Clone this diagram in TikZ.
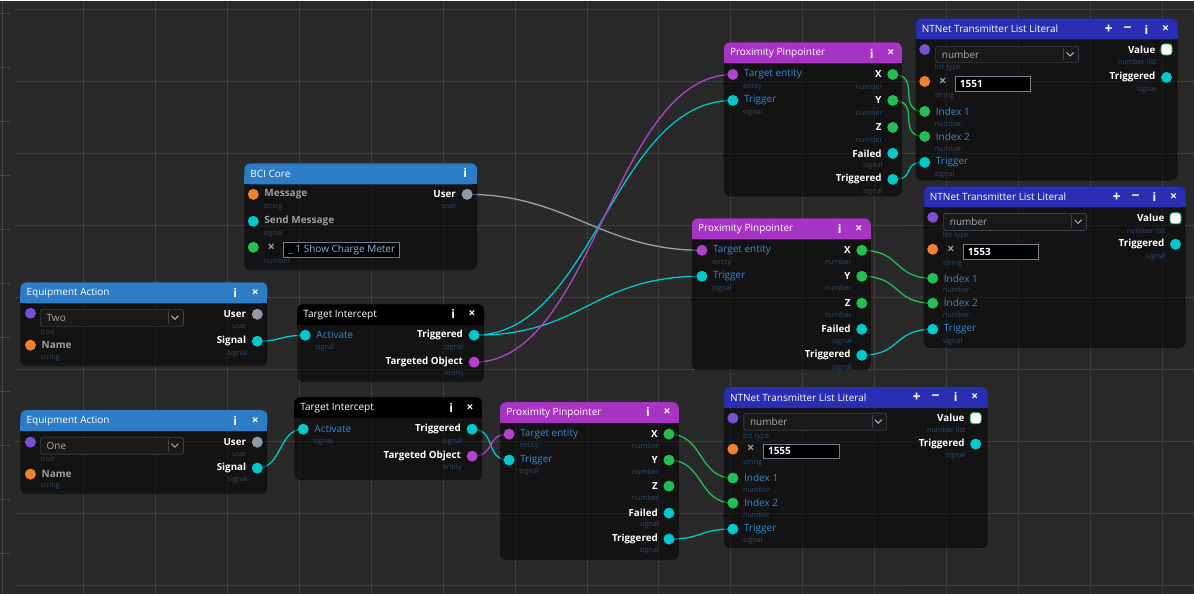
\documentclass[tikz,border=0pt]{standalone}
\usepackage{fontspec}
\setmainfont{Open Sans}
\definecolor{canvas}{RGB}{41,41,41}
\definecolor{gridline}{RGB}{70,70,70}
\definecolor{hdrblue}{RGB}{45,124,198}
\definecolor{hdrpurple}{RGB}{168,52,196}
\definecolor{hdrnavy}{RGB}{41,46,178}
\definecolor{pinorange}{RGB}{240,128,44}
\definecolor{pincyan}{RGB}{0,200,204}
\definecolor{pingreen}{RGB}{36,190,82}
\definecolor{pinentity}{RGB}{178,66,204}
\definecolor{pinicon}{RGB}{124,78,212}
\definecolor{pinuser}{RGB}{146,154,166}
\definecolor{wireuser}{RGB}{150,162,178}
\definecolor{lblblue}{RGB}{58,136,214}
\definecolor{lblgray}{RGB}{158,158,158}
\definecolor{subblue}{RGB}{44,74,108}
\definecolor{boxedge}{RGB}{76,94,116}
\definecolor{boxblue}{RGB}{140,184,226}
\pgfdeclarelayer{grid}
\pgfdeclarelayer{wires}
\pgfsetlayers{grid,wires,main}
\usetikzlibrary{positioning}

\tikzset{
  port/.style={circle, inner sep=0pt, minimum size=11pt, fill=#1},
  valpin/.style={rectangle, rounded corners=3pt, inner sep=0pt, minimum size=11pt,
                 fill=white, draw=pingreen, line width=0.8pt},
  inlbl/.style={anchor=west, inner sep=0pt, text=lblblue, font=\fontsize{10}{12}\selectfont},
  graylbl/.style={anchor=west, inner sep=0pt, text=lblgray, font=\fontsize{10}{12}\selectfont\bfseries},
  outlbl/.style={anchor=east, inner sep=0pt, text=white, font=\fontsize{9.8}{12}\selectfont\bfseries},
  sublbl/.style={inner sep=0pt, text=subblue, font=\fontsize{7.2}{8}\selectfont},
  hdrtext/.style={anchor=west, inner sep=0pt, text=white, font=\fontsize{10}{12}\selectfont},
  hdricon/.style={inner sep=0pt, text=white, font=\fontsize{12}{12}\selectfont\bfseries},
  bigicon/.style={hdricon, font=\fontsize{14}{14}\selectfont\bfseries},
  xmark/.style={inner sep=0pt, text=lblgray, font=\fontsize{13}{13}\selectfont\bfseries},
  droptext/.style={anchor=west, inner sep=0pt, text=lblgray!85, font=\fontsize{10}{12}\selectfont},
  wire/.style={draw=#1, line width=1.3pt},
}

\newcommand{\npanel}[7]{% name, x1, y1, x2, y2, header colour, title
  \fill[black, fill opacity=0.52, rounded corners=6pt] (#2,#3) rectangle (#4,#5);
  \fill[#6, rounded corners=6pt] (#2,#3) rectangle (#4,#3+21);
  \fill[#6] (#2,#3+12) rectangle (#4,#3+21);
  \node[hdrtext] (#1) at (#2+6,#3+10.5) {#7};
}
\newcommand{\inpin}[6]{% name, x, y, port style, label style, label
  \node[#4] (#1) at (#2,#3) {};
  \node[#5] (#1-l) at (#2+11,#3) {#6};
}
\newcommand{\intype}[5][12]{% name, x, y, type
  \node[sublbl, anchor=west] (#2-t) at (#3+10,#4+#1) {#5};
}
\newcommand{\outpin}[6]{% name, x, y, port style, label, type
  \node[#4] (#1) at (#2,#3) {};
  \node[outlbl] (#1-l) at (#2-11,#3) {#5};
  \node[sublbl, anchor=east] (#1-t) at (#2-10,#3+12) {#6};
}
\newcommand{\dropbox}[6]{% name, x1, y1, x2, y2, text
  \draw[boxedge, fill=black!40!canvas, rounded corners=2pt] (#2,#3) rectangle (#4,#5);
  \draw[boxedge!50!canvas] ({#4-15},{#3+2}) -- ({#4-15},{#5-2});
  \draw[lblgray!80, line width=1pt] ({#4-12},{(#3+#5)/2-2}) -- ({#4-8.5},{(#3+#5)/2+1.5}) -- ({#4-5},{(#3+#5)/2-2});
  \node[droptext] (#1) at ({#2+6},{(#3+#5)/2}) {#6};
}
\newcommand{\valbox}[7]{% name, x1, y1, x2, y2, text colour, text
  \draw[boxedge!80!white, fill=black] (#2,#3) rectangle (#4,#5);
  \node[anchor=west, inner sep=0pt, text=#6, font=\fontsize{10}{12}\selectfont] (#1) at ({#2+5},{(#3+#5)/2}) {#7};
}

\begin{document}
\begin{tikzpicture}[x=1pt, y=-1pt]
  \begin{pgfonlayer}{grid}
    \fill[canvas] (0,0) rectangle (1194,594);
    \foreach \gx in {83,155,...,1163}
      \draw[gridline, line width=1pt, dash pattern=on 3pt off 1pt] (\gx,0) -- (\gx,594);
    \foreach \gy in {9.5,81.5,...,586}
      \draw[gridline, line width=1pt, dash pattern=on 3pt off 1pt] (16,\gy) -- (1194,\gy);
    \draw[gridline, line width=1pt] (2.5,0) -- (2.5,594);
    \foreach \ty in {13,67,...,560}
      \draw[gridline, line width=1pt] (0,\ty) -- (10,\ty);
  \end{pgfonlayer}
  \useasboundingbox (0,0) rectangle (1194,594);

  % BCI core
  \npanel{bci}{244}{163}{477}{270}{hdrblue}{BCI Core}
  \node[hdricon] (bci-info) at (465,173) {i};
  \inpin{bci-msg}{253}{194}{port=pinorange}{graylbl}{Message}
  \intype{bci-msg}{253}{194}{string}
  \inpin{bci-send}{253}{221}{port=pincyan}{graylbl}{Send Message}
  \intype{bci-send}{253}{221}{signal}
  \inpin{bci-num}{253}{247}{port=pingreen}{graylbl}{}
  \intype[14]{bci-num}{253}{247}{number}
  \node[xmark] (bci-x) at (271,247) {×};
  \valbox{bci-val}{283}{242}{399}{257}{boxblue}{\_ 1 Show Charge Meter}
  \outpin{bci-user}{467}{194}{port=pinuser}{User}{user}

  % equipment actions
  \npanel{ea1}{20}{282}{267}{366}{hdrblue}{Equipment Action}
  \node[hdricon] (ea1-info) at (235,293) {i};
  \node[hdricon] (ea1-close) at (255,293) {×};
  \inpin{ea1-icon}{30}{313}{port=pinicon}{graylbl}{}
  \intype[19]{ea1-icon}{30}{313}{icon}
  \dropbox{ea1-drop}{40}{309}{183}{326}{Two}
  \inpin{ea1-name}{30}{345}{port=pinorange}{graylbl}{Name}
  \intype[13]{ea1-name}{30}{345}{string}
  \outpin{ea1-user}{257}{314}{port=pinuser}{User}{user}
  \outpin{ea1-sig}{257}{341}{port=pincyan}{Signal}{signal}

  \npanel{ea2}{20}{410}{267}{494}{hdrblue}{Equipment Action}
  \node[hdricon] (ea2-info) at (235,421) {i};
  \node[hdricon] (ea2-close) at (255,421) {×};
  \inpin{ea2-icon}{30}{442}{port=pinicon}{graylbl}{}
  \intype[17]{ea2-icon}{30}{442}{icon}
  \dropbox{ea2-drop}{40}{437}{183}{454}{One}
  \inpin{ea2-name}{30}{474}{port=pinorange}{graylbl}{Name}
  \intype{ea2-name}{30}{474}{string}
  \outpin{ea2-user}{257}{442}{port=pinuser}{User}{user}
  \outpin{ea2-sig}{257}{468}{port=pincyan}{Signal}{signal}

  % target intercepts
  \npanel{ti1}{297}{304}{484}{382}{black}{Target Intercept}
  \node[hdricon] (ti1-info) at (453,314) {i};
  \node[hdricon] (ti1-close) at (472,314) {×};
  \inpin{ti1-act}{305}{335}{port=pincyan}{inlbl}{Activate}
  \intype{ti1-act}{305}{335}{signal}
  \outpin{ti1-trig}{474}{335}{port=pincyan}{Triggered}{signal}
  \outpin{ti1-obj}{474}{362}{port=pinentity}{Targeted Object}{entity}

  \npanel{ti2}{294}{397}{482}{480}{black}{Target Intercept}
  \node[hdricon] (ti2-info) at (451,408) {i};
  \node[hdricon] (ti2-close) at (470,408) {×};
  \inpin{ti2-act}{303}{429}{port=pincyan}{inlbl}{Activate}
  \intype{ti2-act}{303}{429}{signal}
  \outpin{ti2-trig}{472}{429}{port=pincyan}{Triggered}{signal}
  \outpin{ti2-obj}{472}{456}{port=pinentity}{Targeted Object}{entity}

  % proximity pinpointers
  \npanel{pa}{724}{42}{902}{196}{hdrpurple}{Proximity Pinpointer}
  \node[hdricon] (pa-info) at (872,53) {i};
  \node[hdricon] (pa-close) at (891,53) {×};
  \inpin{pa-te}{733}{74}{port=pinentity}{inlbl}{Target entity}
  \intype{pa-te}{733}{74}{entity}
  \inpin{pa-trig}{733}{100}{port=pincyan}{inlbl}{Trigger}
  \intype{pa-trig}{733}{100}{signal}
  \outpin{pa-x}{893}{74}{port=pingreen}{X}{number}
  \outpin{pa-y}{893}{100}{port=pingreen}{Y}{number}
  \outpin{pa-z}{893}{127}{port=pingreen}{Z}{number}
  \outpin{pa-fail}{893}{153}{port=pincyan}{Failed}{signal}
  \outpin{pa-trg}{893}{179}{port=pincyan}{Triggered}{signal}

  \npanel{pb}{692}{218}{871}{370}{hdrpurple}{Proximity Pinpointer}
  \node[hdricon] (pb-info) at (840,229) {i};
  \node[hdricon] (pb-close) at (859,229) {×};
  \inpin{pb-te}{702}{250}{port=pinentity}{inlbl}{Target entity}
  \intype{pb-te}{702}{250}{entity}
  \inpin{pb-trig}{702}{276}{port=pincyan}{inlbl}{Trigger}
  \intype{pb-trig}{702}{276}{signal}
  \outpin{pb-x}{862}{250}{port=pingreen}{X}{number}
  \outpin{pb-y}{862}{276}{port=pingreen}{Y}{number}
  \outpin{pb-z}{862}{303}{port=pingreen}{Z}{number}
  \outpin{pb-fail}{862}{329}{port=pincyan}{Failed}{signal}
  \outpin{pb-trg}{862}{355}{port=pincyan}{Triggered}{signal}

  \npanel{pc}{500}{402}{679}{560}{hdrpurple}{Proximity Pinpointer}
  \node[hdricon] (pc-info) at (648,412) {i};
  \node[hdricon] (pc-close) at (667,412) {×};
  \inpin{pc-te}{509}{434}{port=pinentity}{inlbl}{Target entity}
  \intype{pc-te}{509}{434}{entity}
  \inpin{pc-trig}{509}{460}{port=pincyan}{inlbl}{Trigger}
  \intype{pc-trig}{509}{460}{signal}
  \outpin{pc-x}{669}{434}{port=pingreen}{X}{number}
  \outpin{pc-y}{669}{460}{port=pingreen}{Y}{number}
  \outpin{pc-z}{669}{486}{port=pingreen}{Z}{number}
  \outpin{pc-fail}{669}{513}{port=pincyan}{Failed}{signal}
  \outpin{pc-trg}{669}{539}{port=pincyan}{Triggered}{signal}

  % list literals
  \npanel{na}{916}{18}{1178}{180}{hdrnavy}{NTNet Transmitter List Literal}
  \node[bigicon] (na-add) at (1109,29) {+};
  \node[bigicon] (na-del) at (1128,29) {−};
  \node[hdricon] (na-info) at (1147,29) {i};
  \node[hdricon] (na-close) at (1166,29) {×};
  \inpin{na-type}{925}{49}{port=pinicon}{graylbl}{}
  \intype[18]{na-type}{925}{49}{list type}
  \dropbox{na-drop}{936}{46}{1079}{62}{number}
  \inpin{na-str}{925}{81}{port=pinorange}{graylbl}{}
  \intype[14]{na-str}{925}{81}{string}
  \node[xmark] (na-x) at (943,81) {×};
  \valbox{na-val}{955}{76}{1031}{91}{white}{\textbf{1551}}
  \inpin{na-i1}{925}{111}{port=pingreen}{inlbl}{Index 1}
  \intype{na-i1}{925}{111}{number}
  \inpin{na-i2}{925}{136}{port=pingreen}{inlbl}{Index 2}
  \intype{na-i2}{925}{136}{number}
  \inpin{na-trig}{925}{162}{port=pincyan}{inlbl}{Trigger}
  \intype{na-trig}{925}{162}{signal}
  \outpin{na-value}{1167}{49}{valpin}{Value}{number list}
  \outpin{na-trg}{1167}{77}{port=pincyan}{Triggered}{signal}

  \npanel{nb}{924}{186}{1186}{348}{hdrnavy}{NTNet Transmitter List Literal}
  \node[bigicon] (nb-add) at (1117,197) {+};
  \node[bigicon] (nb-del) at (1136,197) {−};
  \node[hdricon] (nb-info) at (1155,197) {i};
  \node[hdricon] (nb-close) at (1174,197) {×};
  \inpin{nb-type}{933}{217}{port=pinicon}{graylbl}{}
  \intype[18]{nb-type}{933}{217}{list type}
  \dropbox{nb-drop}{944}{213}{1087}{230}{number}
  \inpin{nb-str}{933}{249}{port=pinorange}{graylbl}{}
  \intype[14]{nb-str}{933}{249}{string}
  \node[xmark] (nb-x) at (951,249) {×};
  \valbox{nb-val}{963}{244}{1039}{259}{white}{\textbf{1553}}
  \inpin{nb-i1}{933}{278}{port=pingreen}{inlbl}{Index 1}
  \intype{nb-i1}{933}{278}{number}
  \inpin{nb-i2}{933}{303}{port=pingreen}{inlbl}{Index 2}
  \intype{nb-i2}{933}{303}{number}
  \inpin{nb-trig}{933}{329}{port=pincyan}{inlbl}{Trigger}
  \intype{nb-trig}{933}{329}{signal}
  \outpin{nb-value}{1176}{218}{valpin}{Value}{number list}
  \outpin{nb-trg}{1176}{244}{port=pincyan}{Triggered}{signal}

  \npanel{nc}{724}{387}{988}{548}{hdrnavy}{NTNet Transmitter List Literal}
  \node[bigicon] (nc-add) at (917,397) {+};
  \node[bigicon] (nc-del) at (936,397) {−};
  \node[hdricon] (nc-info) at (956,397) {i};
  \node[hdricon] (nc-close) at (975,397) {×};
  \inpin{nc-type}{733}{418}{port=pinicon}{graylbl}{}
  \intype[18]{nc-type}{733}{418}{list type}
  \dropbox{nc-drop}{744}{413}{887}{430}{number}
  \inpin{nc-str}{733}{449}{port=pinorange}{graylbl}{}
  \intype[14]{nc-str}{733}{449}{string}
  \node[xmark] (nc-x) at (751,449) {×};
  \valbox{nc-val}{763}{444}{839}{458}{white}{\textbf{1555}}
  \inpin{nc-i1}{733}{478}{port=pingreen}{inlbl}{Index 1}
  \intype{nc-i1}{733}{478}{number}
  \inpin{nc-i2}{733}{503}{port=pingreen}{inlbl}{Index 2}
  \intype{nc-i2}{733}{503}{number}
  \inpin{nc-trig}{733}{529}{port=pincyan}{inlbl}{Trigger}
  \intype{nc-trig}{733}{529}{signal}
  \outpin{nc-value}{976}{418}{valpin}{Value}{number list}
  \outpin{nc-trg}{976}{444}{port=pincyan}{Triggered}{signal}

  % connections
  \begin{pgfonlayer}{wires}
    \foreach \from/\to/\col/\k in {
        bci-user/pb-te/wireuser/100, ea1-sig/ti1-act/pincyan/25,
        ti1-trig/pa-trig/pincyan/120, ti1-trig/pb-trig/pincyan/110,
        ti1-obj/pa-te/pinentity/120, ea2-sig/ti2-act/pincyan/25,
        ti2-trig/pc-trig/pincyan/25, ti2-obj/pc-te/pinentity/25,
        pa-x/na-i1/pingreen/30, pa-y/na-i2/pingreen/30, pa-trg/na-trig/pincyan/25,
        pb-x/nb-i1/pingreen/40, pb-y/nb-i2/pingreen/40, pb-trg/nb-trig/pincyan/40,
        pc-x/nc-i1/pingreen/35, pc-y/nc-i2/pingreen/35, pc-trg/nc-trig/pincyan/35}
      \draw[wire=\col] (\from.center) .. controls +(\k,0) and +(-\k,0) .. (\to.center);
  \end{pgfonlayer}
\end{tikzpicture}
\end{document}
